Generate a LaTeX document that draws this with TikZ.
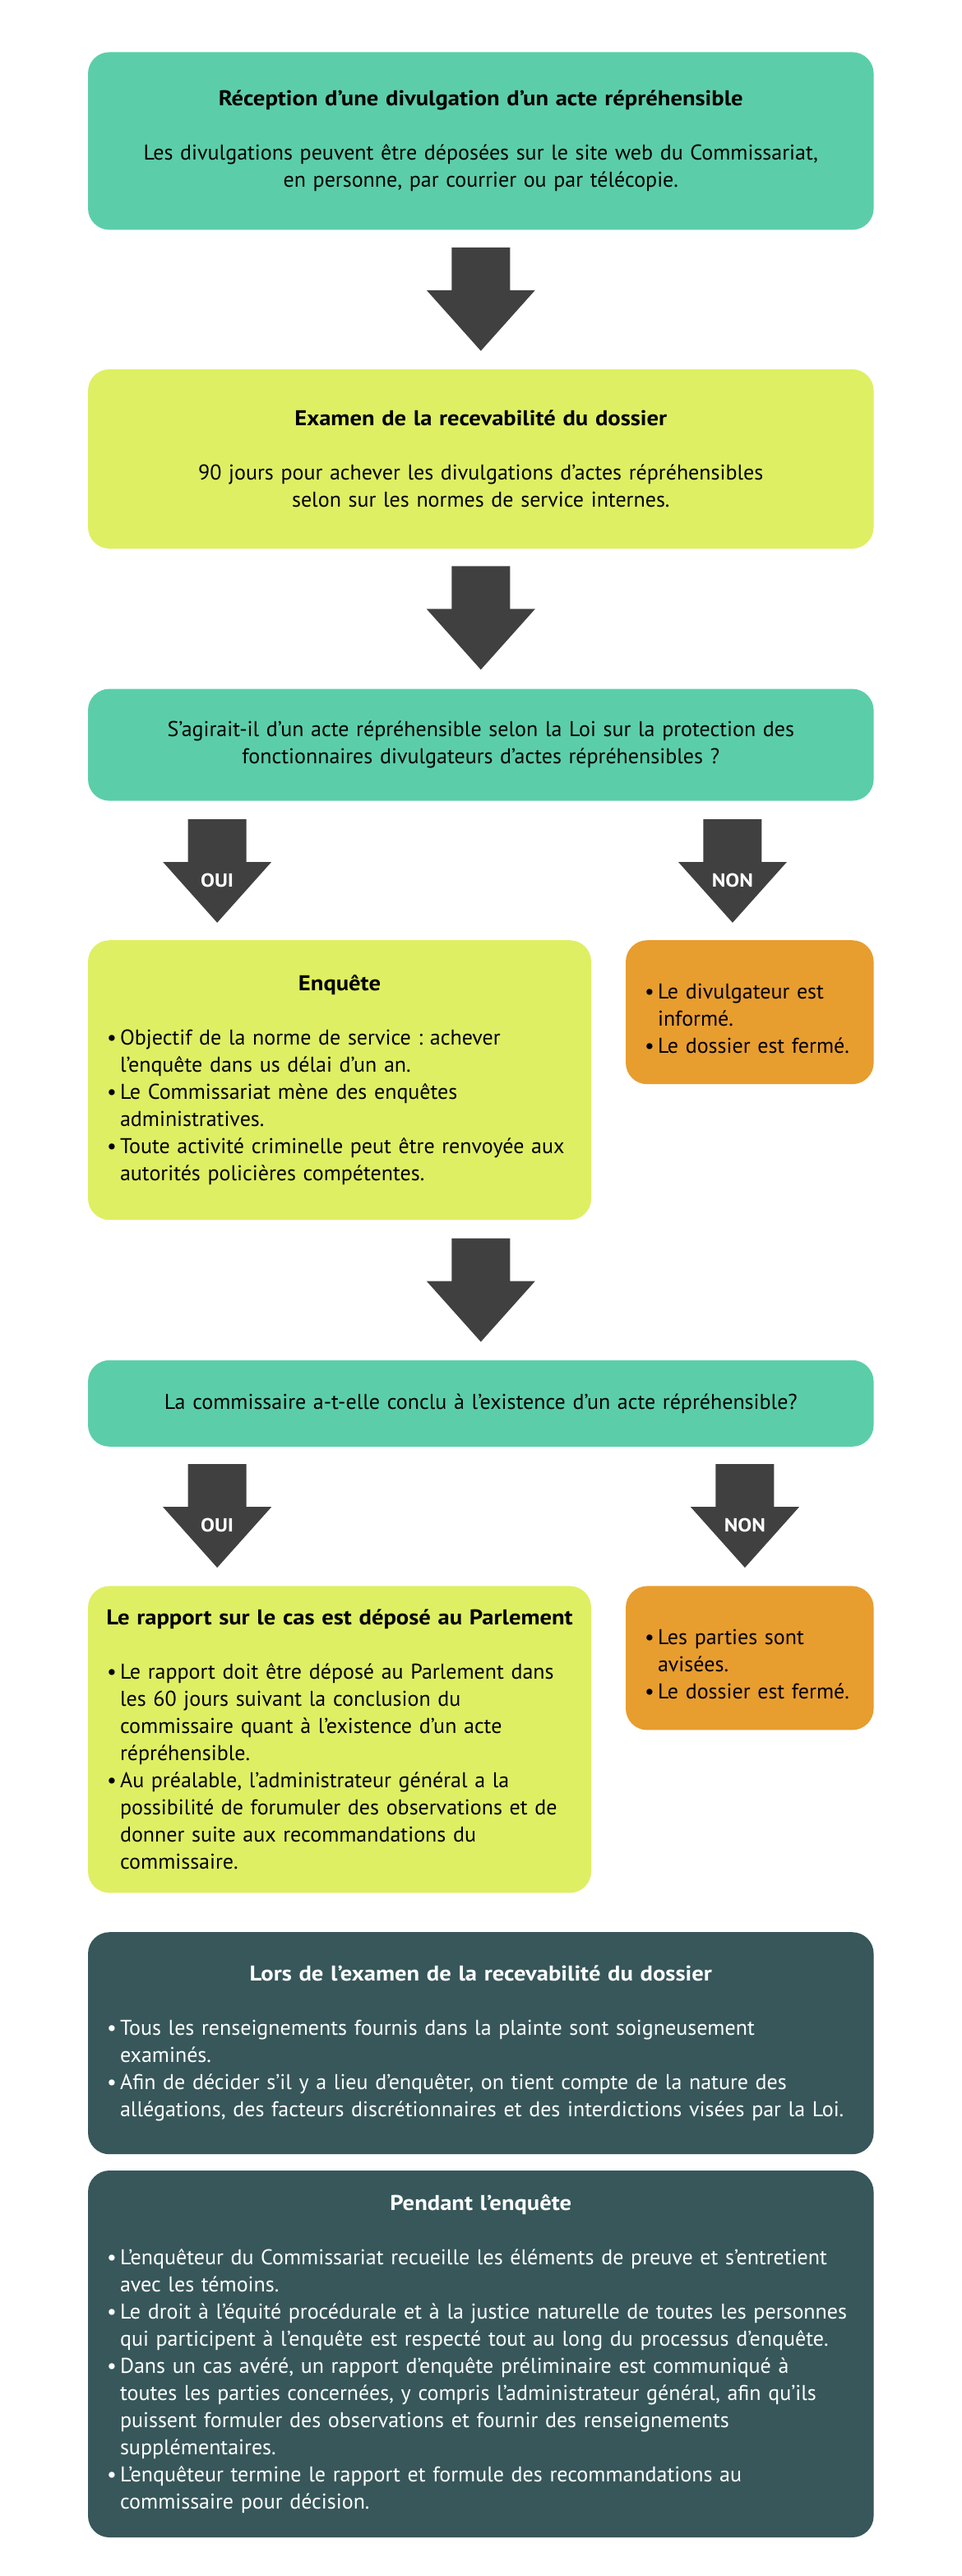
\documentclass[tikz,border=0pt]{standalone}
\usepackage{fontspec}
\setmainfont{PT Sans}[BoldFeatures={FakeStretch=1.1}]
\usepackage{xcolor}
\usepackage{tikz}
\usetikzlibrary{positioning, calc, backgrounds}
\frenchspacing

\definecolor{tealfill}{HTML}{5BCEA9}
\definecolor{limefill}{HTML}{DFEF63}
\definecolor{amberfill}{HTML}{E89D2F}
\definecolor{slatefill}{HTML}{37575A}
\definecolor{arrowgray}{HTML}{404040}

\newcommand{\boxtitle}[1]{\noindent\makebox[\hsize]{\bfseries #1}\par\vspace{16.5pt}}
\newcommand{\bul}[1]{\par\noindent\hangindent=8pt\hangafter=1\rightskip=-20pt plus 1fil
  \makebox[8pt][l]{\textbullet}#1\par}

\begin{document}
\begin{tikzpicture}[
x=1pt, y=1pt,
every node/.style={font=\fontsize{13}{16.5}\selectfont},
card/.style={rectangle, rounded corners=13pt, inner xsep=11.5pt, inner ysep=0pt},
wide/.style={card, text width=454.75pt, align=center},
half/.style={card, text width=283pt, align=left, fill=limefill},
side/.style={card, text width=127.75pt, align=left, fill=amberfill, minimum height=87.5pt},
darkbox/.style={card, text width=454.75pt, align=left, fill=slatefill, text=white},
arrowbox/.style={rectangle, inner sep=0pt, minimum width=66pt, minimum height=62.5pt,
  text=white, font=\fontsize{11.5}{13}\selectfont\bfseries, text height=19.5pt, text depth=0pt}
]

\useasboundingbox (0,0) rectangle (585,-1566);

\node[wide, fill=tealfill, minimum height=108pt, anchor=north] (recept) at (292.4,-31.5)
{\textbf{Réception d’une divulgation d’un acte répréhensible}\\[16.5pt]
Les divulgations peuvent être déposées sur le site web du Commissariat,\\
en personne, par courrier ou par télécopie.};

\node[arrowbox, below=10.5pt of recept] (a1) {};

\node[wide, fill=limefill, minimum height=109pt, below=11pt of a1] (exam)
{\textbf{Examen de la recevabilité du dossier}\\[16.5pt]
90 jours pour achever les divulgations d’actes répréhensibles\\
selon sur les normes de service internes.};

\node[arrowbox, below=10.5pt of exam] (a2) {};

\node[wide, fill=tealfill, minimum height=68pt, below=11.5pt of a2] (q1)
{S’agirait-il d’un acte répréhensible selon la Loi sur la protection des\\
fonctionnaires divulgateurs d’actes répréhensibles ?};

\node[arrowbox, below=11pt of q1.south west, xshift=78.75pt] (oui1) {OUI};
\node[arrowbox, below=11pt of q1.south east, xshift=-86pt] (non1) {NON};

\coordinate (c1) at (q1.west |- oui1.south);
\node[half, minimum height=170pt, below right=10.5pt and 0pt of c1] (enq)
{\boxtitle{Enquête}
\bul{Objectif de la norme de service : achever\newline l’enquête dans us délai d’un an.}
\bul{Le Commissariat mène des enquêtes\newline administratives.}
\bul{Toute activité criminelle peut être renvoyée aux\newline autorités policières compétentes.}};

\node[side, anchor=north east] (close1) at (q1.east |- enq.north)
{\bul{Le divulgateur est\newline informé.}
\bul{Le dossier est fermé.}};

\coordinate (c2) at (q1.south |- enq.south);
\node[arrowbox, below=11pt of c2] (a3) {};

\node[wide, fill=tealfill, minimum height=52.5pt, below=11pt of a3] (q2)
{La commissaire a-t-elle conclu à l’existence d’un acte répréhensible?};

\node[arrowbox, below=10.5pt of q2.south west, xshift=78.75pt] (oui2) {OUI};
\node[arrowbox, below=10.5pt of q2.south east, xshift=-78.5pt] (non2) {NON};

\coordinate (c3) at (q2.west |- oui2.south);
\node[half, minimum height=186.5pt, below right=11pt and 0pt of c3] (report)
{\boxtitle{Le rapport sur le cas est déposé au Parlement}
\bul{Le rapport doit être déposé au Parlement dans\newline les 60 jours suivant la conclusion du\newline commissaire quant à l’existence d’un acte\newline répréhensible.}
\bul{Au préalable, l’administrateur général a la\newline possibilité de forumuler des observations et de\newline donner suite aux recommandations du\newline commissaire.}};

\node[side, anchor=north east] (close2) at (q2.east |- report.north)
{\bul{Les parties sont\newline avisées.}
\bul{Le dossier est fermé.}};

\coordinate (c4) at (q2.south |- report.south);
\node[darkbox, minimum height=135pt, below=23.5pt of c4] (admiss)
{\boxtitle{Lors de l’examen de la recevabilité du dossier}
\bul{Tous les renseignements fournis dans la plainte sont soigneusement\newline examinés.}
\bul{Afin de décider s’il y a lieu d’enquêter, on tient compte de la nature des\newline allégations, des facteurs discrétionnaires et des interdictions visées par la Loi.}};

\node[darkbox, minimum height=223pt, below=9.5pt of admiss] (during)
{\boxtitle{Pendant l’enquête}
\bul{L’enquêteur du Commissariat recueille les éléments de preuve et s’entretient\newline avec les témoins.}
\bul{Le droit à l’équité procédurale et à la justice naturelle de toutes les personnes\newline qui participent à l’enquête est respecté tout au long du processus d’enquête.}
\bul{Dans un cas avéré, un rapport d’enquête préliminaire est communiqué à\newline toutes les parties concernées, y compris l’administrateur général, afin qu’ils\newline puissent formuler des observations et fournir des renseignements\newline supplémentaires.}
\bul{L’enquêteur termine le rapport et formule des recommandations au\newline commissaire pour décision.}};

\begin{pgfonlayer}{background}
\fill[white] (0,0) rectangle (585,-1566);
\foreach \a in {a1,a2,oui1,non1,a3,oui2,non2}
  \fill[arrowgray] ($(\a.north)+(-17.75,0)$) -- ($(\a.north)+(-17.75,-26)$)
    -- ($(\a.north)+(-33,-26)$) -- (\a.south) -- ($(\a.north)+(33,-26)$)
    -- ($(\a.north)+(17.75,-26)$) -- ($(\a.north)+(17.75,0)$) -- cycle;
\end{pgfonlayer}

\end{tikzpicture}
\end{document}
